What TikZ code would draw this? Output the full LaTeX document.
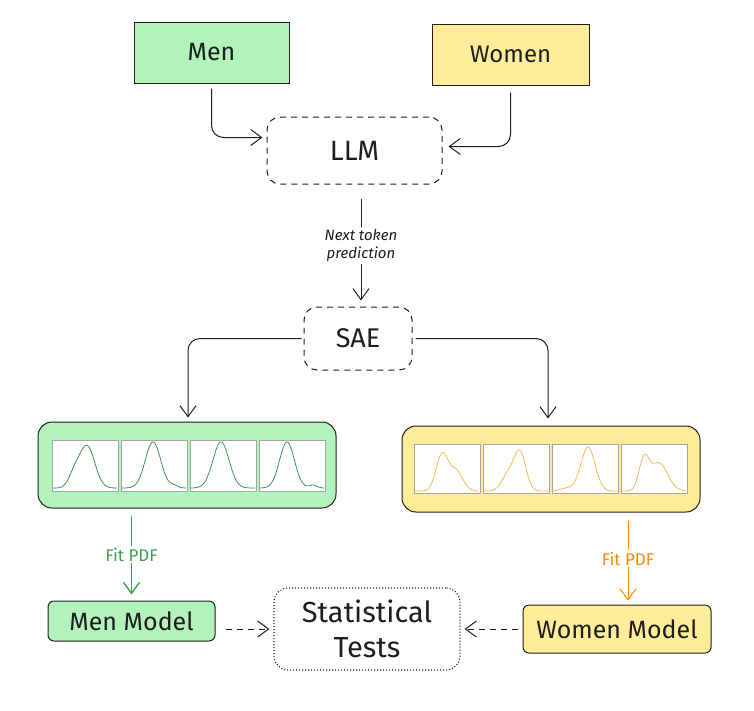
\documentclass[tikz,border=0pt]{standalone}
\usepackage{fontspec}
\setmainfont{Fira Sans}
\usetikzlibrary{arrows.meta}
\definecolor{gfill}{HTML}{B2F2BB}
\definecolor{yfill}{HTML}{FFEC99}
\definecolor{gline}{HTML}{2B8A3E}
\definecolor{gtext}{HTML}{40A050}
\definecolor{oline}{HTML}{F08C00}
\definecolor{ycurve}{HTML}{F2B53A}
\definecolor{ink}{HTML}{1E1E1E}
\tikzset{
  box/.style={draw=ink, line width=1pt, inner sep=0pt, anchor=center, text=ink},
  dbox/.style={box, dashed, dash pattern=on 6pt off 5pt, rounded corners=13pt},
  arr/.style={draw=ink, line width=1pt, -{Straight Barb[length=11pt,width=16pt]}, rounded corners=12pt},
  plotbox/.style={draw=gray!70, line width=0.8pt, fill=white},
  lbl/.style={fill=white, inner sep=2pt, font=\fontsize{15}{18}\selectfont\itshape},
}
\begin{document}
\begin{tikzpicture}[x=1pt,y=-1pt]
\useasboundingbox (0,0) rectangle (754,710);
% top sources
\node[box, fill=gfill, minimum width=155pt, minimum height=61pt, font=\fontsize{25}{30}\selectfont] (men) at (211.5,52.5) {Men};
\node[box, fill=yfill, minimum width=157pt, minimum height=61pt, font=\fontsize{24}{28}\selectfont] (women) at (510.5,54.5) {Women};
\node[dbox, minimum width=175pt, minimum height=67pt, font=\fontsize{28}{32}\selectfont] (llm) at (354.5,150.5) {LLM};
\node[dbox, minimum width=108pt, minimum height=63pt, font=\fontsize{27}{32}\selectfont] (sae) at (358,338.5) {SAE};
% panels
\node[box, fill=gfill, rounded corners=14pt, minimum width=298pt, minimum height=86pt] (gpanel) at (187,465) {};
\node[box, fill=yfill, rounded corners=14pt, minimum width=298pt, minimum height=86pt] (ypanel) at (551,469) {};
% bottom
\node[box, fill=gfill, rounded corners=6pt, minimum width=167pt, minimum height=40pt, font=\fontsize{25}{30}\selectfont] (menmodel) at (131.5,621) {Men Model};
\node[box, dotted, line width=1.1pt, rounded corners=14pt, minimum width=186pt, minimum height=82pt, align=center, font=\fontsize{29}{35}\selectfont] (stats) at (367,629) {Statistical\\Tests};
\node[box, fill=yfill, rounded corners=6pt, minimum width=188pt, minimum height=48pt, font=\fontsize{25}{30}\selectfont] (womenmodel) at (617,629) {Women Model};
% plot boxes
\foreach \bx in {52,121,190,259}{\draw[plotbox] (\bx,440) rectangle ++(66,51);}
\foreach \bx in {414,483,552,621}{\draw[plotbox] (\bx,444) rectangle ++(66,49);}
\begin{scope}[gline, line width=0.7pt]
\draw[shift={(52,489)}] plot[domain=1:65,samples=80,smooth] (\x,{-1-42*exp(-(\x-35)*(\x-35)/120)-12*exp(-(\x-22)*(\x-22)/60)});
\draw[shift={(121,489)}] plot[domain=1:65,samples=80,smooth] (\x,{-1-46*exp(-(\x-32)*(\x-32)/120)-2.5*exp(-(\x-53)*(\x-53)/30)});
\draw[shift={(190,489)}] plot[domain=1:65,samples=80,smooth] (\x,{-1-46*exp(-(\x-31)*(\x-31)/130)});
\draw[shift={(259,489)}] plot[domain=1:65,samples=80,smooth] (\x,{-1-46*exp(-(\x-28)*(\x-28)/110)-3*exp(-(\x-54)*(\x-54)/30)});
\end{scope}
\begin{scope}[ycurve, line width=0.7pt]
\draw[shift={(414,492)}] plot[domain=1:65,samples=80,smooth] (\x,{-1-36*exp(-(\x-28)*(\x-28)/70)-20*exp(-(\x-42)*(\x-42)/90)});
\draw[shift={(483,492)}] plot[domain=1:65,samples=80,smooth] (\x,{-1-38*exp(-(\x-37)*(\x-37)/70)-16*exp(-(\x-25)*(\x-25)/80)});
\draw[shift={(552,492)}] plot[domain=1:65,samples=80,smooth] (\x,{-1-44*exp(-(\x-36)*(\x-36)/100)-3*exp(-(\x-16)*(\x-16)/100)});
\draw[shift={(621,492)}] plot[domain=1:65,samples=80,smooth] (\x,{-1-30*exp(-(\x-23)*(\x-23)/50)-28*exp(-(\x-38)*(\x-38)/150)});
\end{scope}
% connectors
\draw[arr, shorten <=5pt, shorten >=4pt] (men.south) |- ([yshift=13pt]llm.west);
\draw[arr, shorten <=7pt, shorten >=6pt] (women.south) |- ([yshift=4pt]llm.east);
\draw[arr, shorten <=14pt, shorten >=6pt] ([xshift=3pt]sae.north |- llm.south) -- node[lbl, align=center, text=ink] {Next token\\prediction} ([xshift=3pt]sae.north);
\draw[arr, shorten <=2pt, shorten >=4pt] (sae.west) -| ([xshift=1pt]gpanel.north);
\draw[arr, shorten <=3pt, shorten >=7pt] (sae.east) -| ([xshift=-3pt]ypanel.north);
\draw[arr, draw=gtext, line width=1.4pt, shorten <=7pt, shorten >=6pt] (menmodel.north |- gpanel.south) -- node[lbl, text=gtext, font=\fontsize{17}{20}\selectfont] {Fit PDF} (menmodel.north);
\draw[arr, draw=oline, shorten <=8pt, shorten >=4pt] ([xshift=11pt]womenmodel.north |- ypanel.south) -- node[lbl, text=oline, font=\fontsize{17}{20}\selectfont] {Fit PDF} ([xshift=11pt]womenmodel.north);
\draw[arr, dashed, dash pattern=on 6pt off 5pt, shorten <=10pt, shorten >=4pt] (menmodel.east |- stats.west) -- (stats.west);
\draw[arr, dashed, dash pattern=on 6pt off 5pt, shorten <=5pt, shorten >=4pt] (womenmodel.west) -- (stats.east);
\end{tikzpicture}
\end{document}
